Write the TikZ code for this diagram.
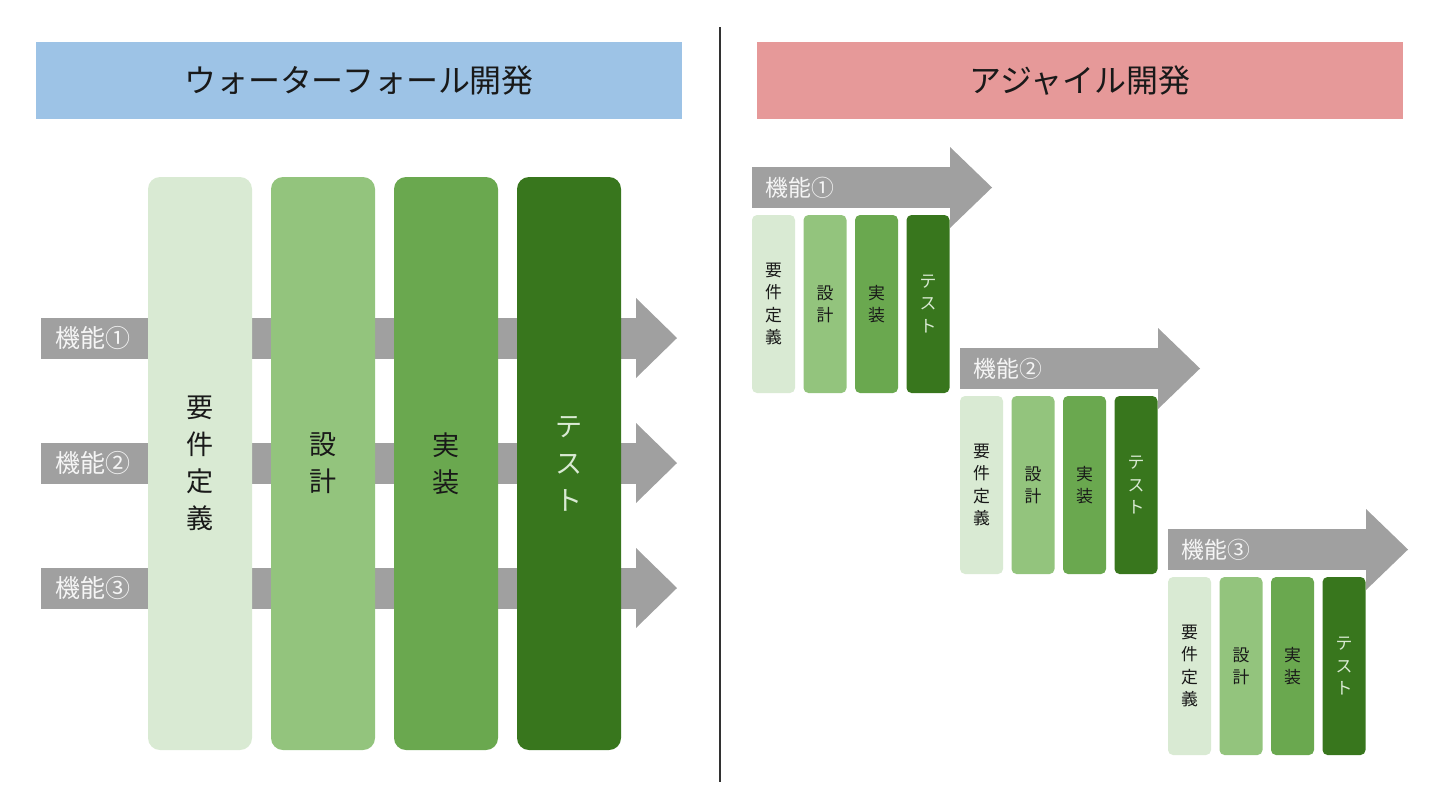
\documentclass[tikz,border=0pt]{standalone}
\usepackage{fontspec}
\setmainfont{Noto Sans CJK JP}
\definecolor{wfblue}{RGB}{157,195,230}
\definecolor{agpink}{RGB}{230,153,153}
\definecolor{phaseA}{RGB}{217,234,211}
\definecolor{phaseB}{RGB}{147,196,125}
\definecolor{phaseC}{RGB}{106,168,79}
\definecolor{phaseD}{RGB}{56,118,29}
\definecolor{flowgray}{RGB}{160,160,160}
\definecolor{labelcol}{RGB}{245,245,245}
\definecolor{textcol}{RGB}{25,25,25}
\definecolor{splitcol}{RGB}{50,50,50}

\begin{document}
\begin{tikzpicture}[x=0.1mm, y=-0.1mm,
		titlebar/.style={rectangle, inner sep=0pt, minimum width=64.6mm, minimum height=7.7mm,
				text=textcol, font=\fontsize{9.1}{11}\selectfont},
		bigphase/.style={rectangle, rounded corners=1.2mm, inner sep=0pt, minimum width=10.4mm,
				minimum height=57.3mm, align=center, font=\fontsize{7.7}{10.5}\selectfont},
		smallphase/.style={rectangle, rounded corners=0.5mm, inner sep=0pt, minimum width=4.3mm,
				minimum height=17.8mm, align=center, font=\fontsize{4.8}{6.3}\selectfont},
		flowlabel/.style={anchor=west, inner sep=0pt, text=labelcol}]

	% --- Frame ---
	\useasboundingbox (0,0) rectangle (1440,810);

	% =============================================
	%  TITLES AND DIVIDER
	% =============================================

	\node[titlebar, fill=wfblue] (wf-title) at (359,80.5) {ウォーターフォール開発};
	\node[titlebar, fill=agpink] (ag-title) at (1080,80.5) {アジャイル開発};
	\draw[splitcol, line width=0.45pt] (720,27) -- (720,782);

	% =============================================
	%  WATERFALL: one flow per feature, phases on top
	% =============================================

	% --- Feature flows (drawn first, columns cover them) ---
	\foreach \r/\y/\num in {1/338/①, 2/463/②, 3/588/③} {
			\fill[flowgray] (41,\y-20.5) rectangle (636,\y+20.5);
			\fill[flowgray] (636,\y-40) -- (677,\y) -- (636,\y+40) -- cycle;
			\node[flowlabel, font=\fontsize{7.1}{9}\selectfont] (wf-feat\r) at (55,\y) {機能\num};
		}

	% --- Phase columns ---
	\foreach \k/\txt/\col/\tcol in {0/要\\件\\定\\義/phaseA/textcol, 1/設\\計/phaseB/textcol,
			2/実\\装/phaseC/textcol, 3/テ\\ス\\ト/phaseD/phaseA} {
			\node[bigphase, fill=\col, text=\tcol] (wf-\k) at (200+123*\k,463.5) {\txt};
		}

	% =============================================
	%  AGILE: a short cycle for each feature
	% =============================================

	\foreach \g/\num in {0/①, 1/②, 2/③} {
			\pgfmathsetmacro{\ox}{752 + 208*\g}
			\pgfmathsetmacro{\oy}{215 + 181*\g}

			% Feature arrow
			\fill[flowgray] (\ox,\oy-48) rectangle (\ox+198,\oy-7);
			\fill[flowgray] (\ox+198,\oy-68) -- (\ox+240,\oy-27.5) -- (\ox+198,\oy+13) -- cycle;
			\node[flowlabel, font=\fontsize{6.5}{8}\selectfont] (ag-feat\g) at (\ox+13,\oy-27.5) {機能\num};

			% Phase columns
			\foreach \k/\txt/\col/\tcol in {0/要\\件\\定\\義/phaseA/textcol, 1/設\\計/phaseB/textcol,
					2/実\\装/phaseC/textcol, 3/テ\\ス\\ト/phaseD/phaseA} {
					\node[smallphase, fill=\col, text=\tcol] (ag-\g-\k) at (\ox+21.5+51.5*\k,\oy+89) {\txt};
				}
		}

\end{tikzpicture}
\end{document}
